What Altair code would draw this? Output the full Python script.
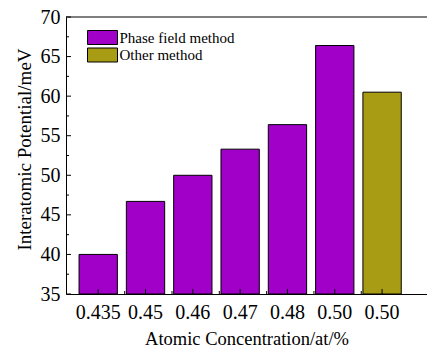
import altair as alt
import pandas as pd

labels = ["0.435", "0.45", "0.46", "0.47", "0.48", "0.50", "0.50"]
values = [40.0, 46.7, 50.0, 53.3, 56.4, 66.4, 60.5]
methods = ["Phase field method"] * 6 + ["Other method"]
method_order = ["Phase field method", "Other method"]
method_colors = ["#a000c8", "#a89c14"]
y_major = [35, 40, 45, 50, 55, 60, 65, 70]
y_minor = [37.5, 42.5, 47.5, 52.5, 57.5, 62.5, 67.5]

W, H = 361, 277
PI, PO, ALIGN = 0.19, 0.41, 0.336
n = len(labels)
step = W / (n - PI + 2 * PO)
FONT = "Liberation Serif"

df = pd.DataFrame({"idx": list(range(n)), "value": values, "method": methods, "base": [35] * n})
label_expr = "[" + ",".join(f"'{l}'" for l in labels) + "][datum.value]"

xscale = alt.Scale(paddingInner=PI, paddingOuter=PO, align=ALIGN)
yscale = alt.Scale(domain=[35, 70], nice=False, zero=False)

x_axis = alt.Axis(
    labelExpr=label_expr, labelAngle=0, ticks=False, tickSize=0,
    labelFontSize=20, labelColor="black", labelPadding=8,
    labelOverlap=False,
    title="Atomic Concentration/at/%", titleFontSize=18.5,
    titleFontWeight="normal", titleColor="black", titlePadding=7,
    domainColor="black", domainWidth=1, grid=False,
)
y_axis = alt.Axis(
    values=y_major, ticks=False, tickSize=0, grid=False, labelOverlap=False,
    labelFontSize=20, labelColor="black", labelPadding=6,
    title="Interatomic Potential/meV", titleFontSize=19,
    titleFontWeight="normal", titleColor="black", titlePadding=6, titleY=132,
    domainColor="black", domainWidth=1,
)

bars = alt.Chart(df).mark_bar(stroke="black", strokeWidth=1, opacity=1).encode(
    x=alt.X("idx:O", scale=xscale, axis=x_axis),
    y=alt.Y("value:Q", scale=yscale, axis=y_axis),
    y2="base:Q",
    color=alt.Color(
        "method:N",
        scale=alt.Scale(domain=method_order, range=method_colors),
        legend=alt.Legend(
            title=None, orient="none", legendX=29, legendY=13,
            symbolType="M-3,-1.4L3,-1.4L3,1.4L-3,1.4Z",
            symbolSize=100, symbolStrokeColor="black", symbolStrokeWidth=1,
            symbolOpacity=1, labelFontSize=15, labelColor="black",
            labelOffset=9.5, rowPadding=-1.5,
        ),
    ),
)

xt = alt.Chart(df).mark_rule(color="black", strokeWidth=1).encode(
    x=alt.X("idx:O", scale=xscale, axis=x_axis), y=alt.value(H), y2=alt.value(H - 5)
)
xt_minor = alt.Chart(df[df.idx < n - 1]).mark_rule(color="black", strokeWidth=1, xOffset=step * 0.56).encode(
    x=alt.X("idx:O", scale=xscale, axis=x_axis), y=alt.value(H), y2=alt.value(H - 3)
)

ydf = pd.DataFrame({"value": y_major})
ydf_m = pd.DataFrame({"value": y_minor})
yt = alt.Chart(ydf).mark_rule(color="black", strokeWidth=1).encode(
    y=alt.Y("value:Q", scale=yscale, axis=y_axis), x=alt.value(0), x2=alt.value(5)
)
yt_minor = alt.Chart(ydf_m).mark_rule(color="black", strokeWidth=1).encode(
    y=alt.Y("value:Q", scale=yscale, axis=y_axis), x=alt.value(0), x2=alt.value(3)
)

top = alt.Chart(pd.DataFrame({"a": [0]})).mark_rule(color="black", strokeWidth=1).encode(
    x=alt.value(0), x2=alt.value(W), y=alt.value(0)
)

chart = alt.layer(bars, xt, xt_minor, yt, yt_minor, top).properties(
    width=W, height=H,
    autosize=alt.AutoSizeParams(type="none"),
    padding={"left": 66, "top": 17, "right": 0, "bottom": 55},
).configure(background="white", font=FONT).configure_view(stroke=None).configure_axis(
    labelFont=FONT, titleFont=FONT
).configure_legend(labelFont=FONT)

chart.save("out.html", embed_options={"renderer": "svg", "actions": False})
